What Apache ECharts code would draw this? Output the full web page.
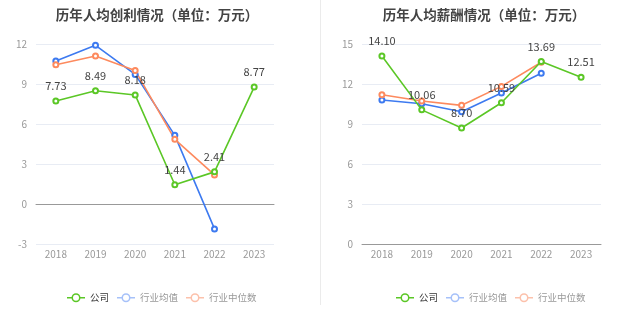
<!DOCTYPE html>
<html><head><meta charset="utf-8">
<script src="https://cdn.jsdelivr.net/npm/echarts@6/dist/echarts.min.js"></script>
<style>html,body{margin:0;padding:0;background:#fff}#c{width:637px;height:327px}</style>
</head><body><div id="c"></div>
<script>
const years = ['2018','2019','2020','2021','2022','2023'];
const profitCompany = [7.73, 8.49, 8.18, 1.44, 2.41, 8.77];
const profitAvg = [10.72, 11.9, 9.72, 5.15, -1.87, null];
const profitMedian = [10.45, 11.1, 10.02, 4.85, 2.18, null];
const salaryCompany = [14.10, 10.06, 8.70, 10.59, 13.69, 12.51];
const salaryAvg = [10.8, 10.52, 9.92, 11.33, 12.8, null];
const salaryMedian = [11.2, 10.72, 10.4, 11.82, 13.63, null];
const names = ['公司','行业均值','行业中位数'];
const colors = ['#5bc726','#3d7af0','#fd8a5e'];
const legendColors = ['#5bc726','#a6c1f9','#fcc1ab'];
const FONT = '"Noto Sans CJK SC", "Noto Sans", sans-serif';
const ICON = 'path://M4.5,4.5 A4.5,4.5 0 1 1 13.5,4.5 A4.5,4.5 0 1 1 4.5,4.5 Z M6,4.5 A3,3 0 1 0 12,4.5 A3,3 0 1 0 6,4.5 Z M0,3.75 L4.6,3.75 L4.6,5.25 L0,5.25 Z M13.4,3.75 L18,3.75 L18,5.25 L13.4,5.25 Z';

function series(name, data, idx, axisIdx, label) {
  return {
    name, type: 'line', data, xAxisIndex: axisIdx, yAxisIndex: axisIdx,
    symbol: 'emptyCircle', symbolSize: 5, connectNulls: false,
    lineStyle: {width: 1.6, color: colors[idx]},
    itemStyle: {color: colors[idx], borderWidth: 1.4},
    label: label ? {show: true, position: 'top', distance: 6, color: '#444', fontSize: 11, fontFamily: FONT,
      formatter: p => p.value.toFixed(2)} : {show: false},
    z: idx === 0 ? 3 : 2
  };
}
function legend(left) {
  return {
    left, top: 288, itemWidth: 18, itemHeight: 9, itemGap: 8,
    textStyle: {fontSize: 9.5, fontFamily: FONT},
    data: names.map((n, i) => ({name: n, icon: ICON,
      itemStyle: {color: legendColors[i], borderWidth: 0},
      textStyle: {color: i === 0 ? '#333' : '#999'}}))
  };
}
function xAxis(gridIndex) {
  return {
    type: 'category', gridIndex, data: years, boundaryGap: true,
    axisLine: {onZero: true, lineStyle: {color: '#999'}},
    axisTick: {alignWithLabel: true, length: 4, lineStyle: {color: '#999'}},
    axisLabel: {color: '#999', fontSize: 10, fontFamily: FONT, margin: 5}
  };
}
function yAxis(gridIndex, min, max) {
  return {
    type: 'value', gridIndex, min, max, interval: 3,
    axisLine: {show: false}, axisTick: {show: false},
    axisLabel: {color: '#999', fontSize: 10, fontFamily: FONT, margin: 9},
    splitLine: {lineStyle: {color: '#e8ecf4'}}
  };
}
const chart = echarts.init(document.getElementById('c'), null, {renderer: 'canvas'});
chart.setOption({
  animation: false,
  backgroundColor: '#fff',
  title: [
    {text: '历年人均创利情况（单位：万元）', left: 152, top: 3, textAlign: 'center',
      textStyle: {fontSize: 13.5, fontWeight: 'bold', color: '#444', fontFamily: FONT}},
    {text: '历年人均薪酬情况（单位：万元）', left: 479, top: 3, textAlign: 'center',
      textStyle: {fontSize: 13.5, fontWeight: 'bold', color: '#444', fontFamily: FONT}}
  ],
  graphic: [{type: 'line', shape: {x1: 320.5, y1: 0, x2: 320.5, y2: 305}, style: {stroke: '#ebebeb', lineWidth: 1}}],
  legend: [legend(62), legend(391)],
  grid: [
    {left: 36, width: 238, top: 44, height: 200},
    {left: 362, width: 239, top: 44, height: 200}
  ],
  xAxis: [xAxis(0), xAxis(1)],
  yAxis: [yAxis(0, -3, 12), yAxis(1, 0, 15)],
  series: [
    series('公司', profitCompany, 0, 0, true),
    series('行业均值', profitAvg, 1, 0, false),
    series('行业中位数', profitMedian, 2, 0, false),
    series('公司', salaryCompany, 0, 1, true),
    series('行业均值', salaryAvg, 1, 1, false),
    series('行业中位数', salaryMedian, 2, 1, false)
  ]
});
</script></body></html>
